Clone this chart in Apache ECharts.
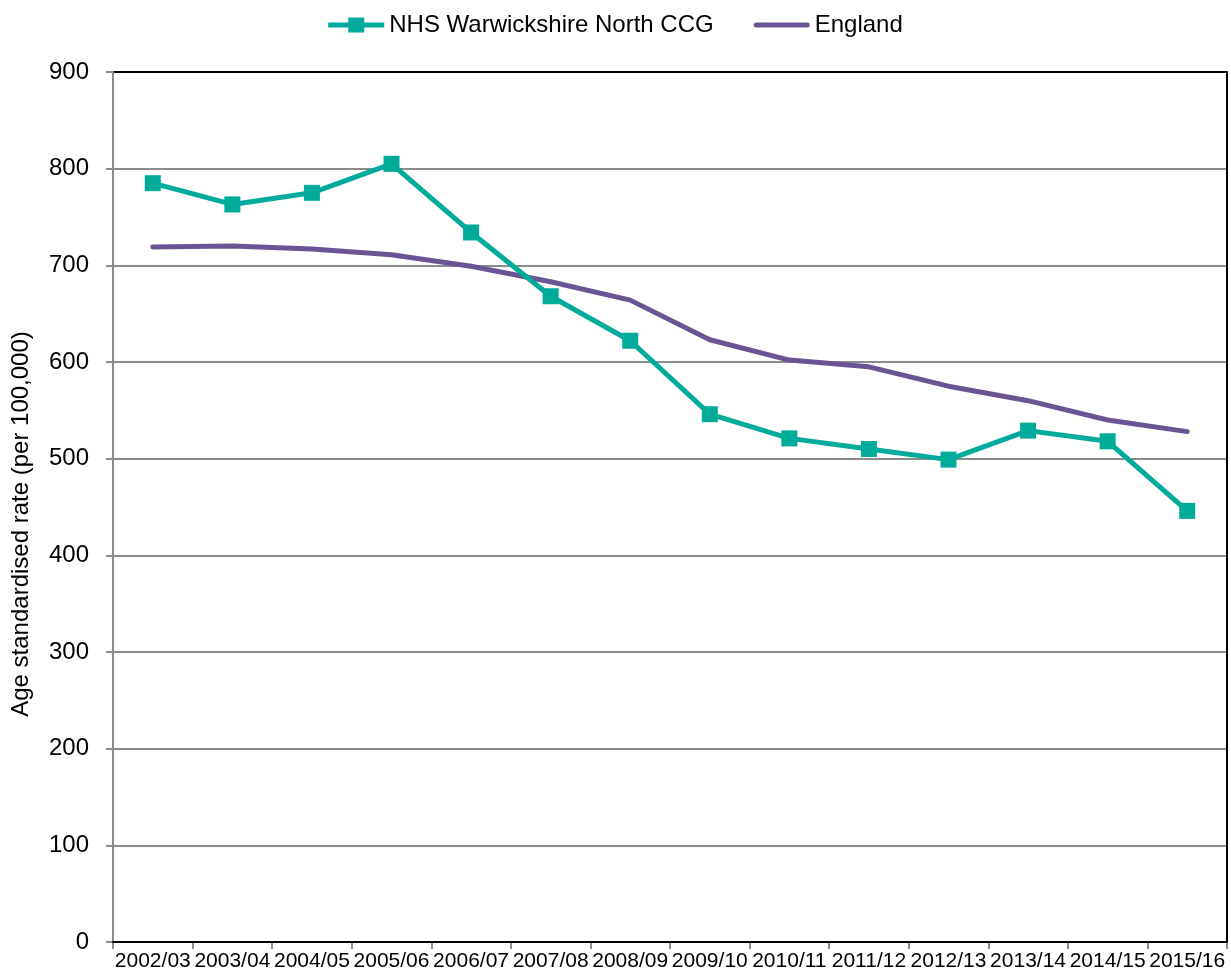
<!DOCTYPE html>
<html>
<head>
<meta charset="utf-8">
<script src="https://cdn.jsdelivr.net/npm/echarts@6/dist/echarts.min.js"></script>
<style>
  html, body { margin: 0; padding: 0; background: #fff; }
  #chart { width: 1231px; height: 980px; }
</style>
</head>
<body>
<div id="chart"></div>
<script>
// Financial years shown on the category axis
const years = ['2002/03', '2003/04', '2004/05', '2005/06', '2006/07', '2007/08', '2008/09',
               '2009/10', '2010/11', '2011/12', '2012/13', '2013/14', '2014/15', '2015/16'];

// Age standardised rate per 100,000
const warwickshireNorth = [785, 763, 775, 805, 734, 668, 622, 546, 521, 510, 499, 529, 518, 446];
const england = [719, 720, 717, 711, 699, 683, 664, 623, 602, 595, 575, 560, 540, 528];

const yTicks = { min: 0, max: 900, interval: 100 };

const FONT = 'Liberation Sans, Arial, sans-serif';
const TEAL = '#00AB9B';
const PURPLE = '#6B5493';
const GRID_GREY = '#8C8C8C';

// Legend keys: a thick line with a square marker, and a plain thick line
const ICON_LINE_MARKER = 'path://M0,5 H20 V0 H36 V5 H56 V10 H36 V15 H20 V10 H0 Z';
const ICON_LINE = 'path://M2.5,5 H53.5 A2.5,2.5 0 0 1 53.5,10 H2.5 A2.5,2.5 0 0 1 2.5,5 Z M0,0 L0.01,0 M56,15 L55.99,15';

// Gridline colours: grey inside the plot, black along the top edge
const splitColours = [];
for (let v = yTicks.min; v <= yTicks.max; v += yTicks.interval) {
  splitColours.push(v === yTicks.max ? '#000000' : GRID_GREY);
}

const chart = echarts.init(document.getElementById('chart'), null, { renderer: 'canvas' });

chart.setOption({
  backgroundColor: '#ffffff',
  animation: false,
  textStyle: { fontFamily: FONT },
  legend: {
    top: 8,
    left: 'center',
    itemWidth: 56,
    itemHeight: 15,
    itemGap: 40,
    textStyle: { fontFamily: FONT, fontSize: 24, color: '#000' },
    data: [
      { name: 'NHS Warwickshire North CCG', icon: ICON_LINE_MARKER, itemStyle: { color: TEAL, borderWidth: 0 } },
      { name: 'England', icon: ICON_LINE, itemStyle: { color: PURPLE, borderWidth: 0 } }
    ]
  },
  grid: { left: 113, right: 4, top: 72, bottom: 38, containLabel: false },
  xAxis: [
    {
      type: 'category',
      data: years,
      boundaryGap: true,
      axisLine: { show: true, lineStyle: { color: GRID_GREY, width: 2 } },
      axisTick: { show: true, length: 7, lineStyle: { color: GRID_GREY, width: 2 } },
      axisLabel: { interval: 0, color: '#000', fontSize: 21, fontFamily: FONT, margin: 9 },
      splitLine: { show: false }
    },
    {
      // closes the plot frame along the top
      type: 'category',
      data: years,
      position: 'top',
      z: 10,
      axisLine: { show: true, lineStyle: { color: '#000', width: 2 } },
      axisTick: { show: false },
      axisLabel: { show: false },
      splitLine: { show: false }
    }
  ],
  yAxis: [
    {
      type: 'value',
      min: yTicks.min,
      max: yTicks.max,
      interval: yTicks.interval,
      name: 'Age standardised rate (per 100,000)',
      nameLocation: 'middle',
      nameGap: 80,
      nameRotate: 90,
      nameTextStyle: { fontFamily: FONT, fontSize: 24, color: '#000', padding: [0, 34, 0, 0] },
      axisLine: { show: true, lineStyle: { color: GRID_GREY, width: 2 } },
      axisTick: { show: true, length: 7, lineStyle: { color: GRID_GREY, width: 2 } },
      axisLabel: { color: '#000', fontSize: 24, fontFamily: FONT, margin: 24 },
      splitLine: { show: true, lineStyle: { color: splitColours, width: 2 } }
    },
    {
      // closes the plot frame along the right edge
      type: 'value',
      position: 'right',
      min: yTicks.min,
      max: yTicks.max,
      interval: yTicks.interval,
      z: 10,
      axisLine: { show: true, lineStyle: { color: '#000', width: 2 } },
      axisTick: { show: false },
      axisLabel: { show: false },
      splitLine: { show: false }
    }
  ],
  series: [
    {
      name: 'NHS Warwickshire North CCG',
      type: 'line',
      xAxisIndex: 0,
      yAxisIndex: 0,
      data: warwickshireNorth,
      symbol: 'rect',
      symbolSize: 16,
      lineStyle: { color: TEAL, width: 5 },
      itemStyle: { color: TEAL, borderWidth: 0 },
      z: 4
    },
    {
      name: 'England',
      type: 'line',
      xAxisIndex: 0,
      yAxisIndex: 0,
      data: england,
      symbol: 'none',
      showSymbol: false,
      lineStyle: { color: PURPLE, width: 5, cap: 'round' },
      itemStyle: { color: PURPLE },
      z: 3
    }
  ]
});
</script>
</body>
</html>
